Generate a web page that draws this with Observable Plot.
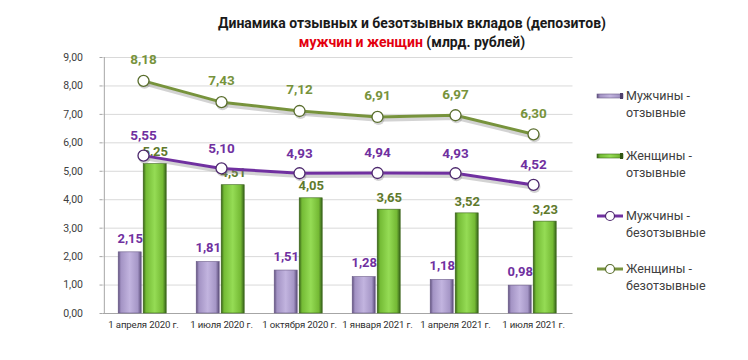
<!DOCTYPE html>
<html>
<head>
<meta charset="utf-8">
<script src="https://cdn.jsdelivr.net/npm/d3@7"></script>
<script src="https://cdn.jsdelivr.net/npm/@observablehq/plot@0.6"></script>
<style>
  body { margin: 0; background: #fff; }
  #wrap { position: relative; width: 748px; height: 360px; font-family: Roboto, "Liberation Sans", sans-serif; }
  #title { position: absolute; left: 0; width: 824px; top: 14px; text-align: center; font-weight: bold; font-size: 14px; line-height: 19px; color: #1a1a1a; }
  #title .red { color: #e3000f; }
  #legend { position: absolute; left: 596px; top: 0; font-size: 12.5px; color: #404040; }
  .li { position: absolute; left: 0; width: 150px; }
  .li svg { position: absolute; left: 0; top: 3px; }
  .li span { position: absolute; left: 30px; top: 0; line-height: 17px; white-space: nowrap; }
  .xax text { letter-spacing: -0.15px; }
</style>
</head>
<body>
<svg width="0" height="0" style="position:absolute">
  <defs>
    <linearGradient id="gPurple" x1="0" x2="1" y1="0" y2="0">
      <stop offset="0" stop-color="#5e4f7c"/>
      <stop offset="0.12" stop-color="#a393c4"/>
      <stop offset="0.5" stop-color="#c2b4df"/>
      <stop offset="0.85" stop-color="#a596c6"/>
      <stop offset="1" stop-color="#5a4b78"/>
    </linearGradient>
    <linearGradient id="gGreen" x1="0" x2="1" y1="0" y2="0">
      <stop offset="0" stop-color="#355e15"/>
      <stop offset="0.12" stop-color="#74bb35"/>
      <stop offset="0.5" stop-color="#95dc55"/>
      <stop offset="0.85" stop-color="#74b934"/>
      <stop offset="1" stop-color="#35601a"/>
    </linearGradient>
  </defs>
</svg>
<div id="wrap">
  <div id="title">Динамика отзывных и безотзывных вкладов (депозитов)<br><span class="red">мужчин и женщин</span> (млрд. рублей)</div>
  <div id="chart"></div>
  <div id="legend"></div>
</div>
<script>
const dates = ["1 апреля 2020 г.", "1 июля 2020 г.", "1 октября 2020 г.", "1 января 2021 г.", "1 апреля 2021 г.", "1 июля 2021 г."];
const menCall = [2.15, 1.81, 1.51, 1.28, 1.18, 0.98];
const womenCall = [5.25, 4.51, 4.05, 3.65, 3.52, 3.23];
const menTerm = [5.55, 5.10, 4.93, 4.94, 4.93, 4.52];
const womenTerm = [8.18, 7.43, 7.12, 6.91, 6.97, 6.30];
const yTicks = [0, 1, 2, 3, 4, 5, 6, 7, 8, 9];
const seriesNames = ["Мужчины - отзывные", "Женщины - отзывные", "Мужчины - безотзывные", "Женщины - безотзывные"];

const fmt = v => d3.format(".2f")(v).replace(".", ",");
const rows = (vals) => dates.map((d, i) => ({date: d, value: vals[i]}));
const mc = rows(menCall), wc = rows(womenCall), mt = rows(menTerm), wt = rows(womenTerm);

const PURPLE = "#7030a0", OLIVE = "#77933c", OLIVE_D = "#5f7a2c";
const font = "Roboto, 'Liberation Sans', sans-serif";
const W = 748, ML = 102.5, MR = 175.5;
const bandHalf = (W - ML - MR) / dates.length / 2;

const chart = Plot.plot({
  width: W,
  height: 360,
  marginTop: 57,
  marginBottom: 47,
  marginLeft: ML,
  marginRight: MR,
  style: {fontFamily: font, background: "transparent"},
  x: {type: "band", domain: dates, paddingInner: 0, paddingOuter: 0, label: null},
  y: {domain: [0, 9], label: null},
  marks: [
    Plot.gridY(yTicks.slice(1), {stroke: "#d9d9d9", strokeOpacity: 1, strokeWidth: 1}),
    Plot.ruleY([0], {stroke: "#a6a6a6"}),
    Plot.ruleX([dates[0]], {x: d => d, dx: -bandHalf, y1: 0, y2: 9, stroke: "#a6a6a6"}),
    Plot.axisY(yTicks, {tickFormat: fmt, tickSize: 3, tickPadding: 17, fontSize: 10.5, fill: "#404040", stroke: "#a6a6a6", label: null}),
    Plot.axisX({tickSize: 0, tickPadding: 8, fontSize: 9.6, fill: "#303030", label: null, className: "xax"}),
    Plot.barY(mc, {x: "date", y: "value", insetLeft: 14.2, insetRight: 40.8, fill: "url(#gPurple)", stroke: "#6a5a88", strokeWidth: 0.6}),
    Plot.barY(wc, {x: "date", y: "value", insetLeft: 39.2, insetRight: 15.8, fill: "url(#gGreen)", stroke: "#3a6418", strokeWidth: 0.6}),
    Plot.text(mc, {x: "date", y: "value", text: d => fmt(d.value), dx: -13.3, dy: -14, fill: PURPLE, fontWeight: "bold", fontSize: 13}),
    Plot.text(wc, {x: "date", y: "value", text: d => fmt(d.value), dx: 11.7, dy: -12, fill: OLIVE_D, fontWeight: "bold", fontSize: 13}),
    // shadows
    Plot.line(wt, {x: "date", y: "value", stroke: "#808080", strokeOpacity: 0.35, strokeWidth: 3.5, dy: 3, dx: 1}),
    Plot.line(mt, {x: "date", y: "value", stroke: "#808080", strokeOpacity: 0.35, strokeWidth: 3.5, dy: 3, dx: 1}),
    Plot.line(wt, {x: "date", y: "value", stroke: OLIVE, strokeWidth: 3}),
    Plot.line(mt, {x: "date", y: "value", stroke: PURPLE, strokeWidth: 3}),
    Plot.dot(wt, {x: "date", y: "value", r: 6, dy: 2, dx: 1, fill: "#808080", fillOpacity: 0.35, stroke: "none"}),
    Plot.dot(mt, {x: "date", y: "value", r: 6, dy: 2, dx: 1, fill: "#808080", fillOpacity: 0.35, stroke: "none"}),
    Plot.dot(wt, {x: "date", y: "value", r: 5.5, fill: "white", stroke: "#5a6e2e", strokeWidth: 1.3}),
    Plot.dot(mt, {x: "date", y: "value", r: 5.5, fill: "white", stroke: "#4e2a6e", strokeWidth: 1.3}),
    Plot.text(wt, {x: "date", y: "value", text: d => fmt(d.value), dy: -21, fill: OLIVE, fontWeight: "bold", fontSize: 13.5}),
    Plot.text(mt, {x: "date", y: "value", text: d => fmt(d.value), dy: -20, fill: PURPLE, fontWeight: "bold", fontSize: 13.5})
  ]
});
document.getElementById("chart").appendChild(chart);

// Legend
const legendTops = [87, 147, 207, 260];
const swatches = [
  `<svg width="28" height="12"><rect x="1" y="4" width="26" height="4" fill="url(#gPurple)" stroke="#6a5a88" stroke-width="0.6"/><rect x="24" y="3" width="3" height="6" fill="#4e3f6a"/></svg>`,
  `<svg width="28" height="12"><rect x="1" y="4" width="26" height="4" fill="url(#gGreen)" stroke="#3a6418" stroke-width="0.6"/><rect x="24" y="3" width="3" height="6" fill="#2f5512"/></svg>`,
  `<svg width="28" height="12"><line x1="1" x2="27" y1="6" y2="6" stroke="${PURPLE}" stroke-width="3"/><circle cx="14" cy="6" r="4.5" fill="white" stroke="#4e2a6e" stroke-width="1.2"/></svg>`,
  `<svg width="28" height="12"><line x1="1" x2="27" y1="6" y2="6" stroke="${OLIVE}" stroke-width="3"/><circle cx="14" cy="6" r="4.5" fill="white" stroke="#5a6e2e" stroke-width="1.2"/></svg>`
];
const legend = document.getElementById("legend");
seriesNames.forEach((name, i) => {
  const [a, b] = name.split(" - ");
  const div = document.createElement("div");
  div.className = "li";
  div.style.top = legendTops[i] + "px";
  div.innerHTML = swatches[i] + `<span>${a} -<br>${b}</span>`;
  legend.appendChild(div);
});
</script>
</body>
</html>
